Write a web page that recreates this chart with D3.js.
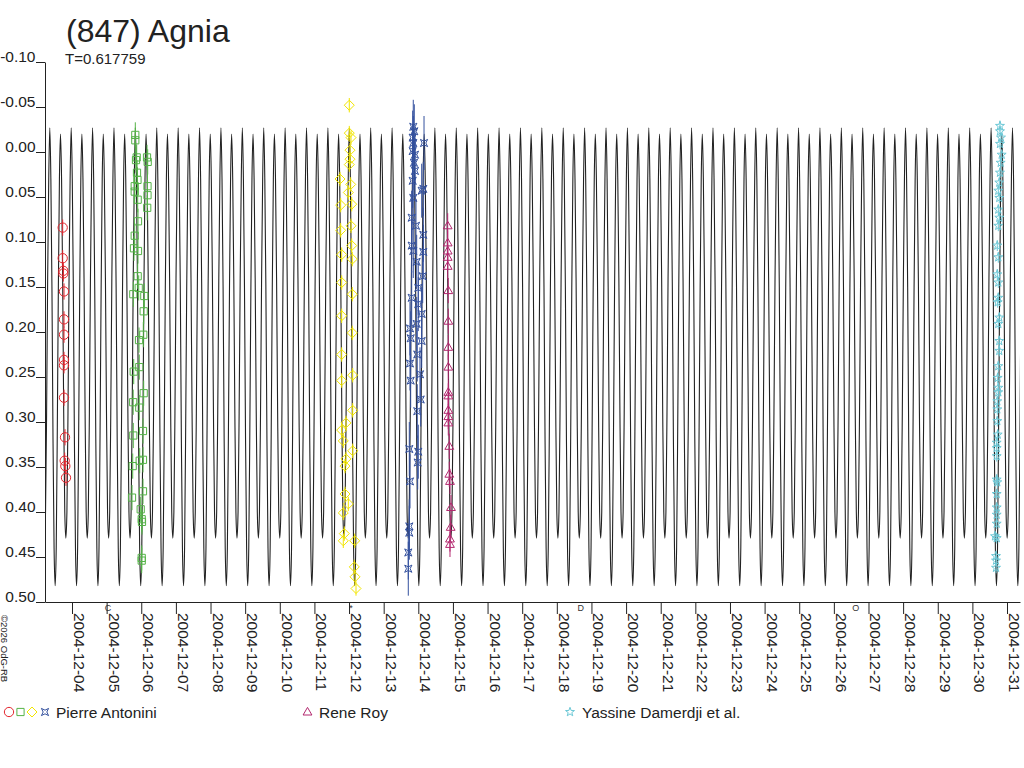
<!DOCTYPE html>
<html>
<head>
<meta charset="utf-8">
<script src="https://cdn.jsdelivr.net/npm/d3@7"></script>
<style>
  body { margin: 0; background: #fff; }
  svg { display: block; font-family: "Liberation Sans", Arial, sans-serif; }
</style>
</head>
<body>
<svg width="1024" height="768"></svg>
<script>
// ---- data (days are decimal days of December 2004, UT) ----
const TITLE = "(847) Agnia";
const SUBTITLE = "T=0.617759";
const PERIOD = 0.617759;
const MODEL_EPOCH = 5.83;   // a primary maximum

// one rotation of the model light curve
const PROFILE_PHASE = [0, 0.05, 0.10, 0.15, 0.20, 0.25, 0.30, 0.35, 0.40, 0.45, 0.50,
                       0.55, 0.60, 0.65, 0.70, 0.75, 0.80, 0.85, 0.90, 0.95];
const PROFILE_MAG = [-0.027, 0.03, 0.15, 0.32, 0.44, 0.482, 0.44, 0.31, 0.15, 0.03, -0.020,
                     0.03, 0.14, 0.29, 0.40, 0.429, 0.40, 0.29, 0.14, 0.03];

const Y_TICKS = [-0.10, -0.05, 0.00, 0.05, 0.10, 0.15, 0.20, 0.25, 0.30, 0.35, 0.40, 0.45, 0.50];
const Y_TICK_LABELS = ["-0.10", "-0.05", "0.00", "0.05", "0.10", "0.15", "0.20", "0.25",
                       "0.30", "0.35", "0.40", "0.45", "0.50"];
const X_TICK_LABELS = ["2004-12-04", "2004-12-05", "2004-12-06", "2004-12-07", "2004-12-08",
  "2004-12-09", "2004-12-10", "2004-12-11", "2004-12-12", "2004-12-13", "2004-12-14",
  "2004-12-15", "2004-12-16", "2004-12-17", "2004-12-18", "2004-12-19", "2004-12-20",
  "2004-12-21", "2004-12-22", "2004-12-23", "2004-12-24", "2004-12-25", "2004-12-26",
  "2004-12-27", "2004-12-28", "2004-12-29", "2004-12-30", "2004-12-31"];

const MOON_DAY = [5.04, 12.06, 18.69, 26.63];
const MOON_SYM = ["C", "*", "D", "O"];

const RED_DAY = [3.731, 3.731, 3.749, 3.749, 3.769, 3.769, 3.769, 3.769, 3.769, 3.769, 3.798, 3.789, 3.807, 3.827];
const RED_MAG = [0.084, 0.118, 0.132, 0.135, 0.155, 0.186, 0.203, 0.231, 0.237, 0.273, 0.317, 0.343, 0.349, 0.362];

const GREEN_DAY = [5.828, 5.828, 5.868, 5.848, 6.166, 6.186, 5.877, 5.891, 5.811, 5.811, 6.180, 6.180,
  5.897, 6.172, 5.906, 5.811, 5.790, 5.906, 5.897, 5.926, 5.770, 6.088, 6.070, 6.059, 5.935, 5.943,
  5.782, 6.070, 5.767, 5.943, 6.050, 5.770, 5.955, 6.050, 5.753, 6.050, 5.733, 5.984, 6.013, 6.021,
  6.013, 6.013];
const GREEN_MAG = [-0.019, -0.013, 0.006, 0.009, 0.006, 0.011, 0.023, 0.031, 0.038, 0.044, 0.038, 0.048,
  0.053, 0.062, 0.077, 0.093, 0.107, 0.110, 0.138, 0.151, 0.158, 0.160, 0.177, 0.203, 0.209, 0.239,
  0.244, 0.268, 0.278, 0.284, 0.310, 0.315, 0.343, 0.342, 0.349, 0.377, 0.384, 0.397, 0.408, 0.411,
  0.451, 0.454];

const YELLOW_DAY = [12.007, 12.007, 12.057, 12.028, 12.028, 12.007, 11.739, 12.048, 11.979, 11.759,
  12.077, 11.759, 12.057, 12.077, 11.788, 12.094, 11.788, 12.094, 11.788, 12.094, 11.788, 12.106,
  11.788, 12.106, 11.912, 11.788, 11.834, 12.106, 11.912, 11.883, 11.883, 11.979, 11.834, 11.863,
  11.834, 12.163, 12.152, 12.172, 12.201];
const YELLOW_MAG = [-0.052, -0.021, -0.016, -0.002, 0.008, 0.014, 0.030, 0.036, 0.045, 0.059,
  0.058, 0.087, 0.082, 0.104, 0.114, 0.119, 0.145, 0.158, 0.182, 0.201, 0.225, 0.248,
  0.254, 0.287, 0.301, 0.309, 0.321, 0.332, 0.341, 0.349, 0.380, 0.391, 0.401, 0.424,
  0.432, 0.432, 0.461, 0.472, 0.485];

const BLUE_DAY = [13.855, 13.884, 13.838, 13.855, 14.165, 13.838, 13.904, 13.875, 13.904, 13.838,
  14.144, 14.098, 13.855, 13.809, 13.933, 14.144, 13.809, 13.855, 14.144, 13.953, 14.127, 13.999,
  13.809, 13.999, 14.098, 13.953, 13.760, 13.780, 14.098, 13.970, 13.760, 14.049, 13.780, 14.069,
  13.970, 13.740, 13.999, 13.982, 13.760, 13.740, 13.740, 13.711, 13.711];
const BLUE_MAG = [-0.028, -0.023, -0.016, -0.010, -0.010, -0.001, 0.003, 0.012, 0.021, 0.032,
  0.041, 0.043, 0.051, 0.073, 0.082, 0.092, 0.104, 0.110, 0.111, 0.122, 0.138, 0.151,
  0.162, 0.169, 0.180, 0.191, 0.196, 0.207, 0.210, 0.225, 0.235, 0.247, 0.254, 0.275,
  0.288, 0.330, 0.333, 0.345, 0.366, 0.416, 0.423, 0.445, 0.463];

const MAGENTA_DAY = [14.849, 14.849, 14.849, 14.849, 14.849, 14.866, 14.866, 14.866, 14.866, 14.866,
  14.866, 14.866, 14.866, 14.866, 14.895, 14.895, 14.915, 14.944, 14.935, 14.915, 14.915];
const MAGENTA_MAG = [0.082, 0.101, 0.110, 0.117, 0.127, 0.154, 0.188, 0.217, 0.239, 0.267,
  0.271, 0.287, 0.294, 0.301, 0.327, 0.358, 0.366, 0.395, 0.417, 0.430, 0.436];

const CYAN_DAY = [30.797, 30.797, 30.826, 30.797, 30.846, 30.817, 30.797, 30.777, 30.748, 30.777,
  30.748, 30.777, 30.748, 30.719, 30.748, 30.719, 30.748, 30.748, 30.731, 30.777, 30.748, 30.777,
  30.777, 30.748, 30.731, 30.748, 30.748, 30.719, 30.719, 30.719, 30.731, 30.702, 30.702, 30.702,
  30.702, 30.719, 30.702, 30.702, 30.702, 30.702, 30.653, 30.702, 30.682, 30.682, 30.682];
const CYAN_MAG = [-0.029, -0.023, -0.016, -0.009, 0.003, 0.012, 0.023, 0.034, 0.043, 0.051,
  0.064, 0.073, 0.082, 0.104, 0.117, 0.136, 0.145, 0.162, 0.167, 0.184, 0.191, 0.210,
  0.221, 0.238, 0.251, 0.262, 0.267, 0.277, 0.286, 0.299, 0.314, 0.323, 0.329, 0.338,
  0.364, 0.367, 0.380, 0.395, 0.403, 0.413, 0.427, 0.429, 0.449, 0.454, 0.462];

// ---- drawing ----
const dayToDate = d => new Date(Date.UTC(2004, 11, 1) + (d - 1) * 864e5);

const SHAPES = {
  circle: d3.symbol(d3.symbolCircle, 68)(),
  square: "M-3.6,-3.6H3.6V3.6H-3.6Z",
  diamond: "M0,-5L5,0L0,5L-5,0Z",
  cross: "M-3.6,-3.6L0,-1.8L3.6,-3.6L1.8,0L3.6,3.6L0,1.8L-3.6,3.6L-1.8,0Z",
  triangle: "M0,-4.6L4.4,3L-4.4,3Z",
  star: d3.range(10).map(i => {
    const r = i % 2 ? 1.9 : 4.7, a = -Math.PI / 2 + i * Math.PI / 5;
    return (i ? "L" : "M") + (r * Math.cos(a)).toFixed(2) + "," + (r * Math.sin(a)).toFixed(2);
  }).join("") + "Z"
};

const SESSIONS = [
  { day: RED_DAY, mag: RED_MAG, color: "#e3262e", shape: "circle", err: 0.009 },
  { day: GREEN_DAY, mag: GREEN_MAG, color: "#55b348", shape: "square", err: 0.014 },
  { day: YELLOW_DAY, mag: YELLOW_MAG, color: "#f2e600", shape: "diamond", err: 0.008 },
  { day: BLUE_DAY, mag: BLUE_MAG, color: "#34519e", shape: "cross", err: 0.03 },
  { day: MAGENTA_DAY, mag: MAGENTA_MAG, color: "#b3286f", shape: "triangle", err: 0.014 },
  { day: CYAN_DAY, mag: CYAN_MAG, color: "#6cc8d6", shape: "star", err: 0.006 }
];

const svg = d3.select("svg");
const x = d3.scaleUtc().domain([dayToDate(3.2203), dayToDate(31.375)]).range([45, 1020]);
const y = d3.scaleLinear().domain([-0.10, 0.50]).range([62, 602]);

svg.append("defs").append("clipPath").attr("id", "plot")
  .append("rect").attr("x", 45).attr("y", 40).attr("width", 975).attr("height", 562);

// model light curve, one profile per rotation
const model = [];
for (let n = -6; n <= 44; n++) {
  PROFILE_PHASE.forEach((ph, i) => {
    model.push({ t: MODEL_EPOCH + (n + ph) * PERIOD, m: PROFILE_MAG[i] });
  });
}
svg.append("path")
  .datum(model.filter(p => p.t > 2.9 && p.t < 31.7))
  .attr("clip-path", "url(#plot)")
  .attr("fill", "none")
  .attr("stroke", "#222")
  .attr("stroke-width", 1.1)
  .attr("d", d3.line().x(p => x(dayToDate(p.t))).y(p => y(p.m)).curve(d3.curveMonotoneX));

// observations
SESSIONS.forEach(s => {
  const pts = s.day.map((d, i) => ({ t: d, m: s.mag[i] }));
  const g = svg.append("g").attr("stroke", s.color).attr("fill", "none").attr("stroke-width", 1);
  g.selectAll("line").data(pts).join("line")
    .attr("x1", p => x(dayToDate(p.t))).attr("x2", p => x(dayToDate(p.t)))
    .attr("y1", p => y(p.m - s.err)).attr("y2", p => y(p.m + s.err));
  g.selectAll("path").data(pts).join("path")
    .attr("d", SHAPES[s.shape])
    .attr("transform", p => `translate(${x(dayToDate(p.t))},${y(p.m)})`);
});

// axes
const yAxis = svg.append("g").attr("transform", "translate(45,0)")
  .call(d3.axisLeft(y).tickValues(Y_TICKS).tickFormat((d, i) => Y_TICK_LABELS[i])
    .tickSize(9).tickSizeOuter(0));
yAxis.selectAll("path,line").attr("stroke", "#222");
yAxis.selectAll("text").attr("x", -9.5).attr("dy", -1)
  .attr("font-size", 15.5).attr("font-family", "Liberation Sans, Arial, sans-serif").attr("fill", "#222");

const xAxis = svg.append("g").attr("transform", "translate(0,602)")
  .call(d3.axisBottom(x).tickValues(X_TICK_LABELS.map(s => new Date(s + "T00:00:00Z")))
    .tickFormat((d, i) => X_TICK_LABELS[i]).tickSize(12).tickSizeOuter(0));
xAxis.selectAll("path,line").attr("stroke", "#222");
xAxis.selectAll("text")
  .attr("transform", "rotate(90)").attr("x", 11).attr("y", -1.5).attr("dy", 0)
  .attr("text-anchor", "start")
  .attr("font-size", 15.5).attr("font-family", "Liberation Sans, Arial, sans-serif").attr("fill", "#222");

// moon phases under the axis
svg.append("g").selectAll("text").data(MOON_DAY).join("text")
  .attr("x", d => x(dayToDate(d))).attr("y", 611)
  .attr("text-anchor", "middle").attr("font-size", 9).attr("fill", "#333")
  .text((d, i) => MOON_SYM[i]);

// titles
svg.append("text").attr("x", 66).attr("y", 42).attr("font-size", 32).attr("fill", "#222").text(TITLE);
svg.append("text").attr("x", 65).attr("y", 64).attr("font-size", 15).attr("fill", "#222").text(SUBTITLE);

// credit
svg.append("text").attr("transform", "translate(1,615) rotate(90)")
  .attr("font-size", 9.5).attr("fill", "#222").text("©2026 OdG-RB");

// legend
const LEGEND = [
  { x: 56, label: "Pierre Antonini", marks: [[9, 0], [20.5, 1], [32, 2], [45, 3]] },
  { x: 319, label: "Rene Roy", marks: [[307.5, 4]] },
  { x: 582, label: "Yassine Damerdji et al.", marks: [[570, 5]] }
];
LEGEND.forEach(e => {
  e.marks.forEach(([mx, si]) => {
    svg.append("path").attr("d", SHAPES[SESSIONS[si].shape])
      .attr("transform", `translate(${mx},712)`)
      .attr("fill", "none").attr("stroke", SESSIONS[si].color).attr("stroke-width", 1);
  });
  svg.append("text").attr("x", e.x).attr("y", 717.5).attr("font-size", 15.5).attr("fill", "#222").text(e.label);
});
</script>
</body>
</html>
